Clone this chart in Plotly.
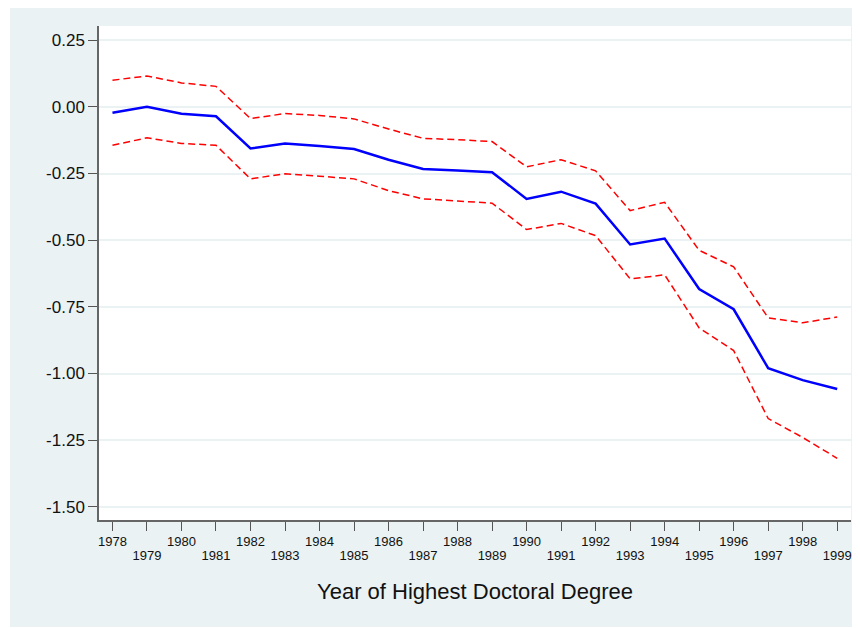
import plotly.graph_objects as go

years = list(range(1978, 2000))
estimate = [-0.022, 0.000, -0.026, -0.035, -0.156, -0.137, -0.147, -0.158, -0.198, -0.233, -0.239,
            -0.245, -0.345, -0.318, -0.363, -0.516, -0.494, -0.683, -0.759, -0.980, -1.025, -1.058]
upper_ci = [0.100, 0.116, 0.090, 0.077, -0.044, -0.025, -0.032, -0.045, -0.083, -0.118, -0.123,
            -0.130, -0.225, -0.198, -0.240, -0.389, -0.358, -0.538, -0.600, -0.791, -0.810, -0.788]
lower_ci = [-0.144, -0.116, -0.137, -0.144, -0.270, -0.251, -0.260, -0.270, -0.314, -0.345, -0.353,
            -0.361, -0.460, -0.437, -0.483, -0.645, -0.630, -0.829, -0.914, -1.169, -1.240, -1.318]
y_ticks = [0.25, 0.0, -0.25, -0.5, -0.75, -1.0, -1.25, -1.5]
y_tick_labels = ["0.25", "0.00", "-0.25", "-0.50", "-0.75", "-1.00", "-1.25", "-1.50"]
even_labels = [str(y) if y % 2 == 0 else "" for y in years]
odd_years = [y for y in years if y % 2 == 1]
odd_labels = [str(y) for y in odd_years]
x_title = "Year of Highest Doctoral Degree"

BG = "#eaf2f3"
FONT = "Arial, Liberation Sans, sans-serif"
XR = [1977.61, 1999.40]

W, H = 852, 620
L, R, T, B = 91, 9, 18, 108
PW, PH = W - L - R, H - T - B

fig = go.Figure()
fig.add_trace(go.Scatter(x=years, y=upper_ci, mode="lines",
                         line=dict(color="#ff0000", width=1.5, dash="7px,4px"), showlegend=False))
fig.add_trace(go.Scatter(x=years, y=lower_ci, mode="lines",
                         line=dict(color="#ff0000", width=1.5, dash="7px,4px"), showlegend=False))
fig.add_trace(go.Scatter(x=years, y=estimate, mode="lines",
                         line=dict(color="#0000ff", width=2.5), showlegend=False))
# invisible trace to carry the second (odd-year label) axis
fig.add_trace(go.Scatter(x=odd_years, y=[None] * len(odd_years), xaxis="x2", mode="lines",
                         showlegend=False, hoverinfo="skip"))

fig.add_shape(type="rect", xref="paper", yref="paper",
              x0=(2 - L) / PW, x1=(851 - L) / PW,
              y0=(H - B - 619) / PH, y1=(H - B - 0) / PH,
              fillcolor=BG, line=dict(width=0), layer="below")
fig.add_shape(type="rect", xref="paper", yref="paper", x0=0, x1=1, y0=0, y1=1,
              fillcolor="white", line=dict(width=0), layer="below")

fig.update_layout(
    width=W, height=H,
    margin=dict(l=L, r=R, t=T, b=B),
    paper_bgcolor="white", plot_bgcolor="white",
    font=dict(family=FONT, color="#000000"),
    xaxis=dict(
        range=XR, tickmode="array", tickvals=years, ticktext=even_labels,
        ticks="outside", ticklen=9, tickwidth=1.2, tickcolor="#555555",
        tickfont=dict(size=13, color="#111111"),
        showline=True, linecolor="#666666", linewidth=1.5,
        showgrid=False, zeroline=False,
        title=dict(text=x_title, font=dict(size=22, color="#111111"), standoff=35),
    ),
    xaxis2=dict(
        range=XR, overlaying="x", anchor="y", side="bottom",
        tickmode="array", tickvals=odd_years, ticktext=odd_labels,
        ticks="outside", ticklen=9, tickcolor="rgba(0,0,0,0)",
        ticklabelstandoff=14,
        tickfont=dict(size=13, color="#111111"),
        showline=False, showgrid=False, zeroline=False,
    ),
    yaxis=dict(
        range=[-1.5495, 0.3034], tickmode="array", tickvals=y_ticks, ticktext=y_tick_labels,
        ticks="outside", ticklen=9, tickwidth=1.2, tickcolor="#555555",
        tickfont=dict(size=17, color="#111111"),
        showline=True, linecolor="#666666", linewidth=1.5,
        showgrid=True, gridcolor=BG, gridwidth=2, zeroline=False,
    ),
)

fig.write_html("out.html")
